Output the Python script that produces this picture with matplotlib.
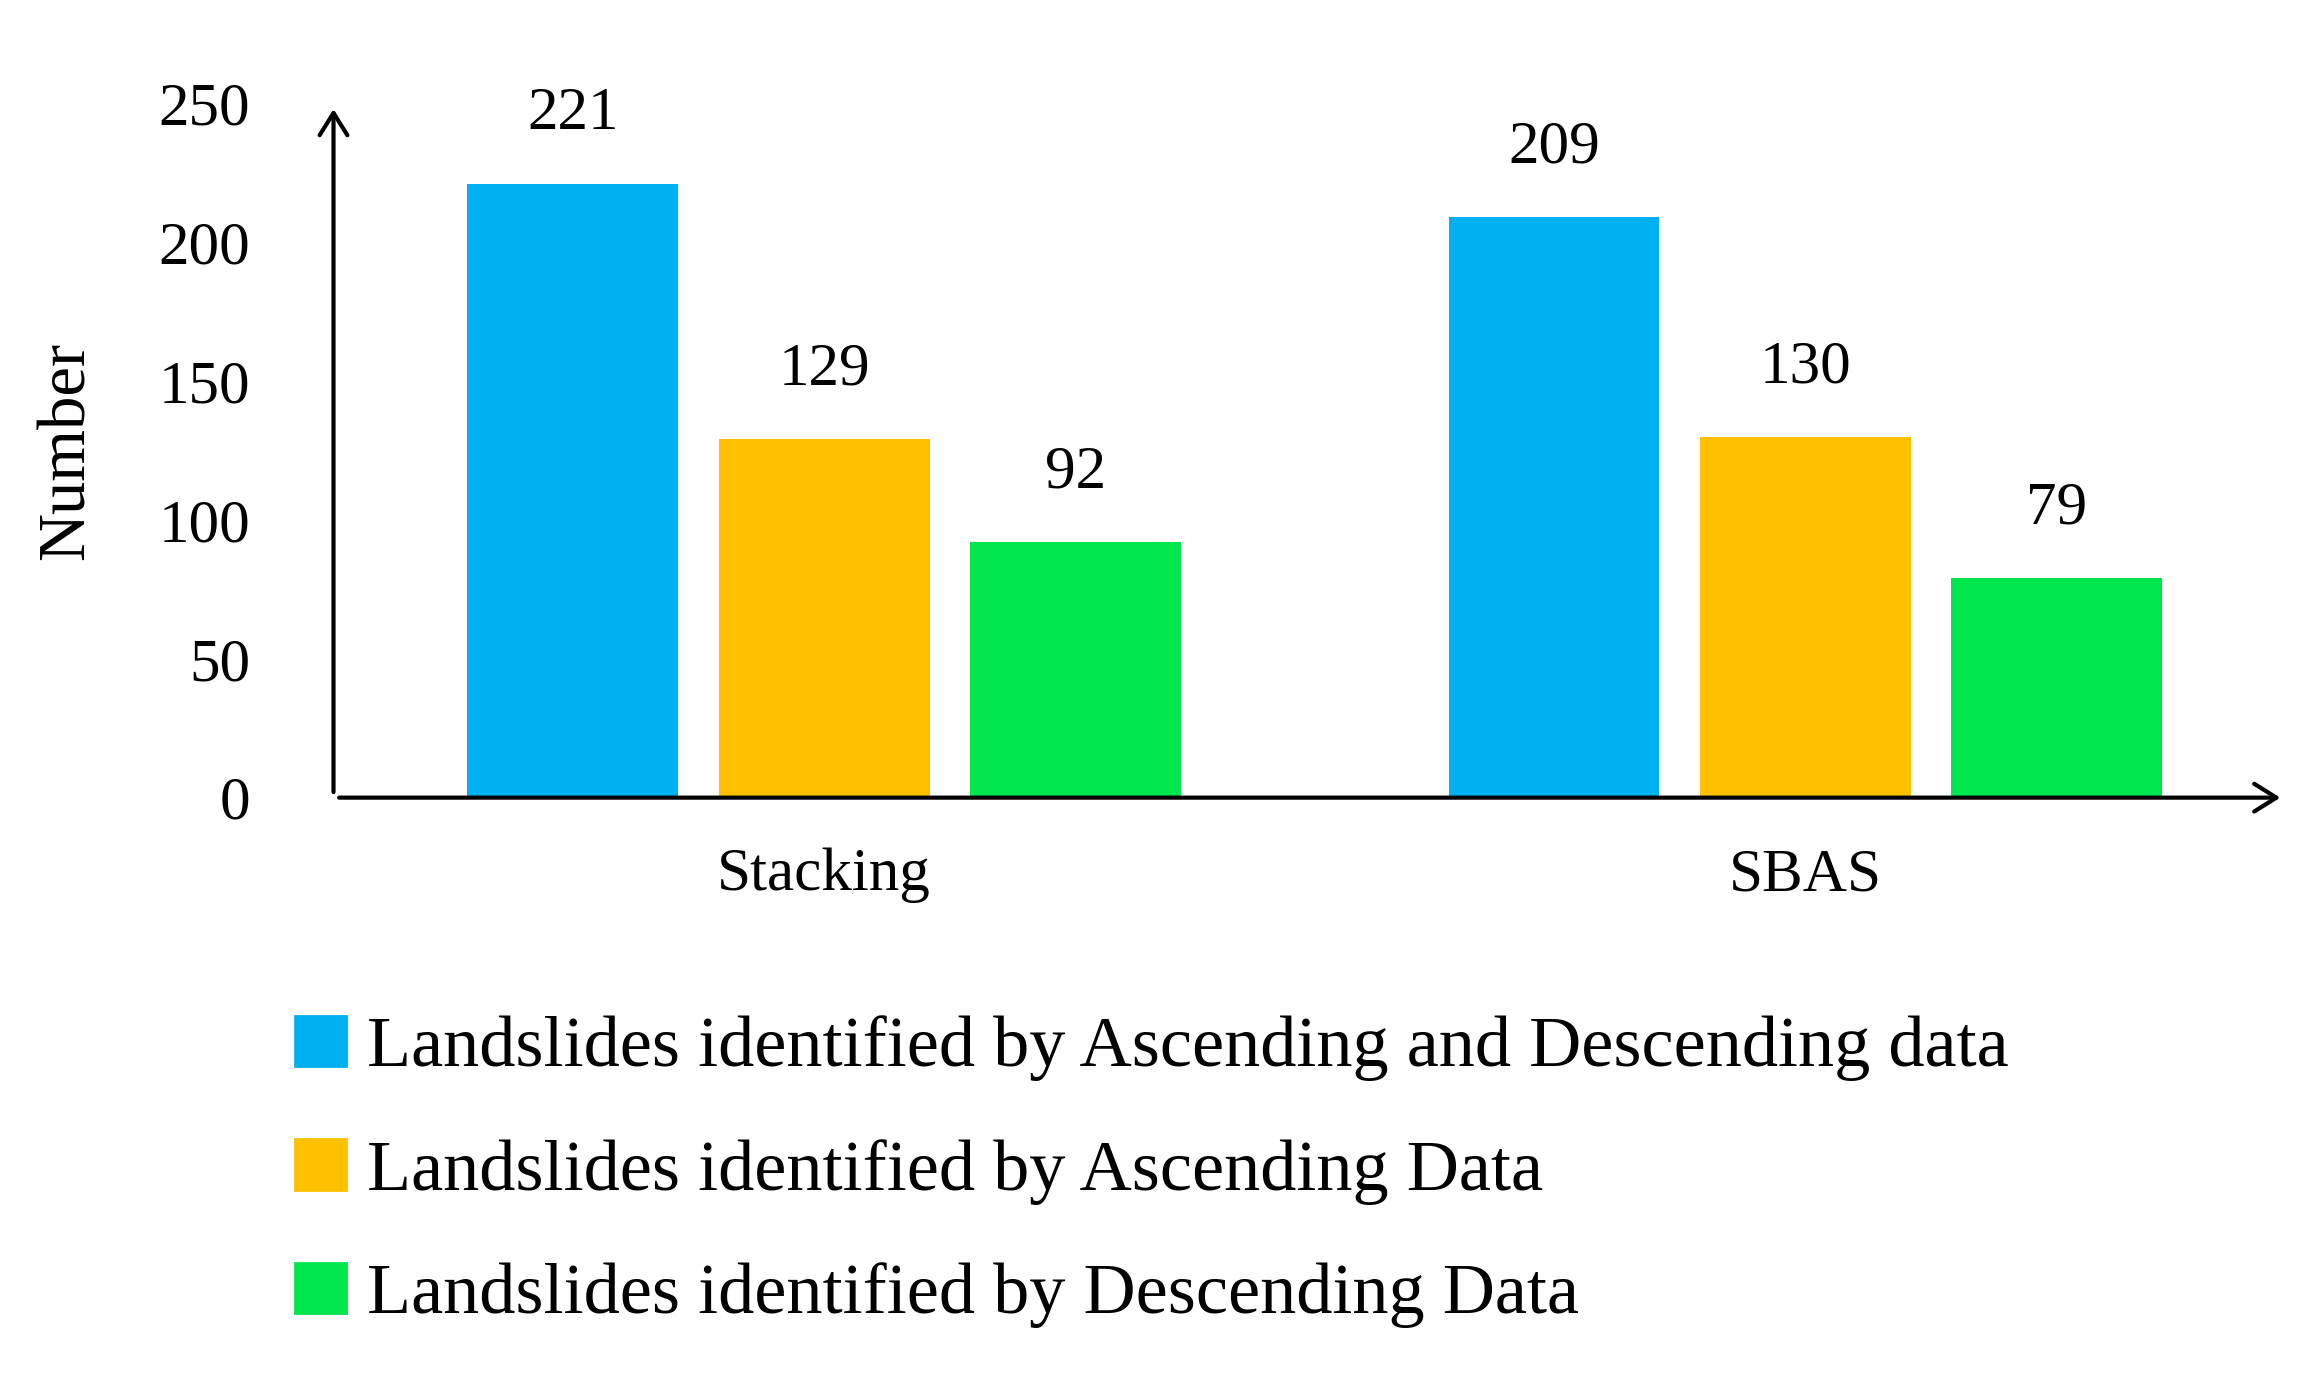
import matplotlib
matplotlib.use("Agg")
import matplotlib.pyplot as plt
import numpy as np
from matplotlib.patches import Patch

categories = ["Stacking", "SBAS"]
series_names = ["Landslides identified by Ascending and Descending data",
                "Landslides identified by Ascending Data",
                "Landslides identified by Descending Data"]
values = [[221, 209], [129, 130], [92, 79]]
colors = ["#00B0F0", "#FFC000", "#00E64D"]

plt.rcParams['font.family'] = ['Liberation Serif', 'DejaVu Serif']
fig = plt.figure(figsize=(11.58, 6.9), dpi=200)
ax = fig.add_axes([0.144, 0.422, 0.843, 0.503])
x = np.arange(len(categories))
w = 0.215
offs = [-0.256, 0, 0.256]
for i in range(3):
    bars = ax.bar(x + offs[i], values[i], w, color=colors[i])
    for b, v in zip(bars, values[i]):
        ax.text(b.get_x() + b.get_width()/2, v + 15, str(v), ha='center', va='bottom', fontsize=22)
ax.set_xlim(-0.5, 1.49)
ax.set_ylim(0, 250)
ax.set_yticks(range(0, 251, 50))
ax.set_xticks(x)
ax.set_xticklabels(categories)
ax.tick_params(length=0, labelsize=22)
ax.tick_params(axis='x', pad=18)
ax.tick_params(axis='y', pad=30)
for s in ax.spines.values():
    s.set_visible(False)
ax.annotate('', xy=(0, 1.0), xytext=(0, 0), xycoords='axes fraction',
            arrowprops=dict(arrowstyle='->,head_length=0.8,head_width=0.5', lw=1.5, color='black'))
ax.annotate('', xy=(1.0, 0), xytext=(0, 0), xycoords='axes fraction',
            arrowprops=dict(arrowstyle='->,head_length=0.8,head_width=0.5', lw=1.5, color='black'))
ax.set_ylabel("Number", fontsize=24, labelpad=22)
handles = [Patch(color=c) for c in colors]
fig.legend(handles, series_names, loc='upper left', bbox_to_anchor=(0.115, 0.285),
           frameon=False, fontsize=26, handlelength=0.7, handleheight=0.7,
           handletextpad=0.3, labelspacing=0.8, borderaxespad=0)
fig.savefig("out.png", dpi=200)
